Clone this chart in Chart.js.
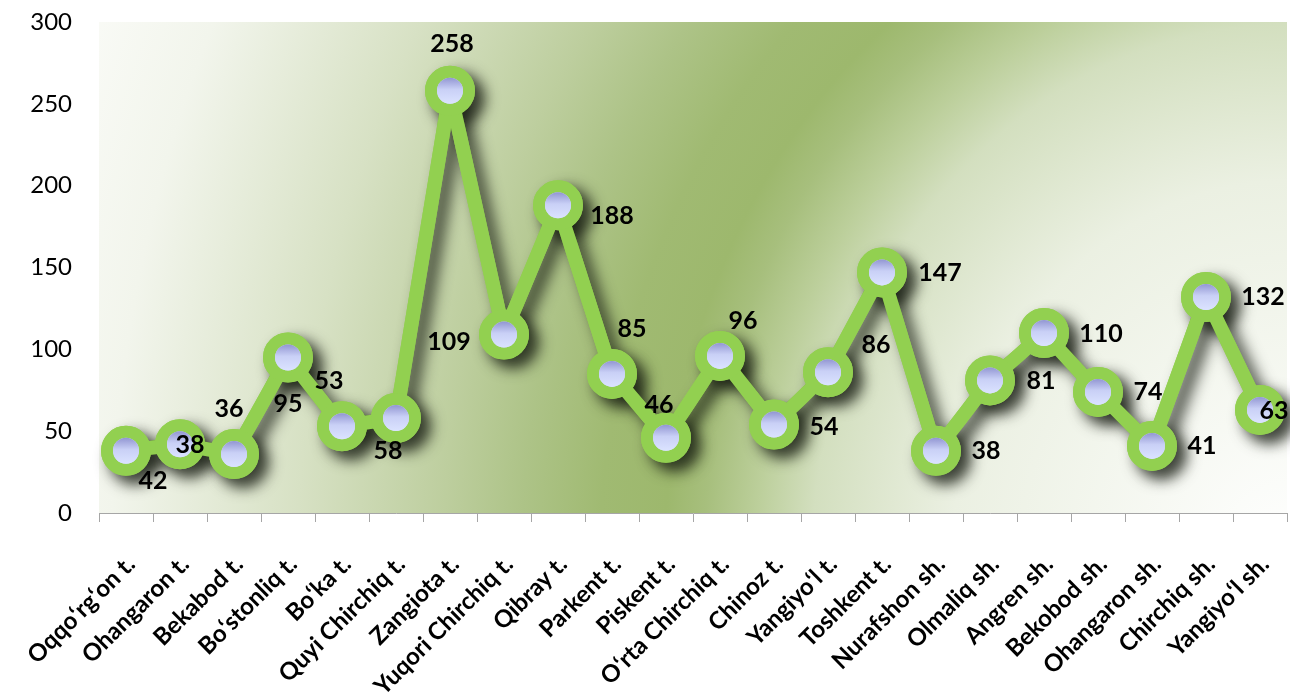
<!DOCTYPE html>
<html>
<head>
<meta charset="utf-8">
<script src="https://cdn.jsdelivr.net/npm/chart.js@4/dist/chart.umd.min.js"></script>
<style>
  html, body { margin: 0; padding: 0; background: #ffffff; }
  #wrap { width: 1290px; height: 697px; position: relative; }
</style>
</head>
<body>
<div id="wrap"><canvas id="c" width="1290" height="697"></canvas></div>
<script>
const categories = [
  "Oqqoʻrgʻon t.", "Ohangaron t.", "Bekabod t.", "Boʻstonliq t.", "Boʻka t.",
  "Quyi Chirchiq t.", "Zangiota t.", "Yuqori Chirchiq t.", "Qibray t.", "Parkent t.",
  "Piskent t.", "Oʻrta Chirchiq t.", "Chinoz t.", "Yangiyoʻl t.", "Toshkent t.",
  "Nurafshon sh.", "Olmaliq sh.", "Angren sh.", "Bekobod sh.", "Ohangaron sh.",
  "Chirchiq sh.", "Yangiyoʻl sh."
];
const values = [38, 42, 36, 95, 53, 58, 258, 109, 188, 85, 46, 96, 54, 86, 147, 38, 81, 110, 74, 41, 132, 63];
const yMin = 0, yMax = 300, yStep = 50;

// label placement relative to each point (style, not data)
const labelOffsets = [[64,-6],[-27,37],[-5,-45],[0,46],[-13,-45],[-8,33],[2,-47],[-55,7],[54,11],[20,-45],
  [-7,-33],[23,-35],[50,2],[48,-27],[58,1],[50,0],[51,1],[57,1],[50,0],[50,0],[57,0],[14,1]];

const bgPlugin = {
  id: 'bgPlugin',
  beforeDraw(chart) {
    const { ctx, chartArea: a } = chart;
    const cx = a.right + 3, cy = a.bottom + 47;
    const ra = 620, rb = 695, k = 2.1;
    ctx.save();
    ctx.beginPath();
    ctx.rect(a.left, a.top, a.right - a.left, a.bottom - a.top);
    ctx.clip();
    ctx.translate(cx, cy);
    ctx.scale(1, rb / ra);
    const g = ctx.createRadialGradient(0, 0, 0, 0, 0, ra * k);
    const stops = [
      [0.00, '#ffffff'], [0.26, '#ebf0e2'], [0.367, '#d3dfbf'], [0.41, '#bccf9b'],
      [0.45, '#a7bf7d'], [0.48, '#9db86d'], [0.53, '#a0ba72'], [0.59, '#adc387'],
      [0.65, '#bdce9e'], [0.762, '#d7e1c4'], [0.905, '#f2f5ec'], [1.00, '#fafbf7']
    ];
    stops.forEach(s => g.addColorStop(s[0], s[1]));
    ctx.fillStyle = g;
    ctx.fillRect(-3000, -3000, 6000, 6000);
    ctx.restore();
  }
};

const shadowPlugin = {
  id: 'shadowPlugin',
  beforeDatasetDraw(chart, args) {
    const ctx = chart.ctx;
    const meta = args.meta;
    ctx.save();
    ctx.shadowColor = 'rgba(20,25,15,0.8)';
    ctx.shadowBlur = 15;
    ctx.shadowOffsetX = 9;
    ctx.shadowOffsetY = 8;
    meta.dataset.draw(ctx, chart.chartArea);
    meta.data.forEach(p => p.draw(ctx, chart.chartArea));
    ctx.restore();
  },
  afterDatasetDraw(chart, args) {
    const ctx = chart.ctx;
    args.meta.data.forEach(p => {
      const x = p.x, y = p.y, r = 13;
      if (!isFinite(x) || !isFinite(y)) return;
      const g = ctx.createLinearGradient(0, y - r, 0, y + r);
      g.addColorStop(0, '#9296d2');
      g.addColorStop(0.45, '#c9d0f6');
      g.addColorStop(1, '#dbe3ff');
      ctx.save();
      ctx.beginPath();
      ctx.arc(x, y, r, 0, Math.PI * 2);
      ctx.fillStyle = g;
      ctx.fill();
      ctx.restore();
    });
  }
};

const labelPlugin = {
  id: 'pointLabels',
  afterDatasetsDraw(chart, args, opts) {
    const ctx = chart.ctx;
    const meta = chart.getDatasetMeta(0);
    ctx.save();
    ctx.font = 'bold 25px Lato, "Open Sans", sans-serif';
    ctx.fillStyle = '#000000';
    ctx.textAlign = 'center';
    ctx.textBaseline = 'middle';
    meta.data.forEach((pt, i) => {
      const off = (opts.offsets && opts.offsets[i]) || [0, -40];
      ctx.fillText(String(chart.data.datasets[0].data[i]), pt.x + off[0], pt.y + off[1]);
    });
    ctx.restore();
  }
};

new Chart(document.getElementById('c'), {
  type: 'line',
  data: {
    labels: categories,
    datasets: [{
      data: values,
      borderColor: '#92d050',
      borderWidth: 14,
      tension: 0,
      borderJoinStyle: 'round',
      borderCapStyle: 'round',
      pointRadius: 19,
      pointHoverRadius: 19,
      pointBorderWidth: 12,
      pointHoverBorderWidth: 12,
      pointBorderColor: '#92d050',
      pointBackgroundColor: '#d0d8fa',
      clip: false
    }]
  },
  options: {
    responsive: false,
    animation: false,
    events: [],
    layout: { autoPadding: false, padding: { top: 22, right: 3, left: 0, bottom: 0 } },
    plugins: {
      legend: { display: false },
      tooltip: { enabled: false },
      pointLabels: { offsets: labelOffsets }
    },
    scales: {
      x: {
        offset: true,
        grid: { display: true, drawOnChartArea: false, drawTicks: true, tickLength: 9, offset: true, color: '#a6a6a6' },
        border: { display: true, color: '#a6a6a6', width: 1 },
        ticks: {
          autoSkip: false,
          minRotation: 45,
          maxRotation: 45,
          padding: 28,
          labelOffset: 5,
          color: '#000000',
          font: { family: 'Lato, "Open Sans", sans-serif', size: 24, weight: 'bold' }
        },
        afterFit(s) { s.height = 184; s.paddingLeft = 0; s.paddingRight = 0; }
      },
      y: {
        min: yMin,
        max: yMax,
        grid: { display: false, drawTicks: false },
        border: { display: false },
        ticks: {
          stepSize: yStep,
          padding: 27,
          color: '#000000',
          font: { family: 'Lato, "Open Sans", sans-serif', size: 24 }
        },
        afterFit(s) { s.width = 99; s.paddingTop = 0; s.paddingBottom = 0; }
      }
    }
  },
  plugins: [bgPlugin, shadowPlugin, labelPlugin]
});
</script>
</body>
</html>
